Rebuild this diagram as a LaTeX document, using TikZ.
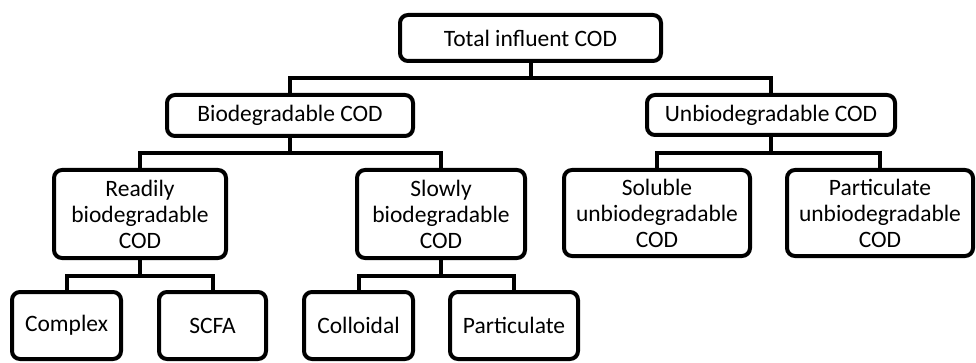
\documentclass[tikz,border=0pt]{standalone}
\usepackage{fontspec}
\setmainfont{Carlito}
\begin{document}
\begin{tikzpicture}[x=1pt,y=-1pt,
  box/.style={draw=black,line width=4pt,rounded corners=8pt,inner sep=0pt,align=center,
    font=\fontsize{23.5}{26}\selectfont,text=black},
  link/.style={draw=black,line width=4pt}]
\useasboundingbox (0,0) rectangle (976,363);
\node[box,minimum width=261,minimum height=46] (tot) at (530.5,38) {Total influent COD};
\node[box,minimum width=246,minimum height=41] (bio) at (290,115.5) {Biodegradable COD};
\node[box,minimum width=248,minimum height=40] (unb) at (771,115) {Unbiodegradable COD};
\node[box,minimum width=172,minimum height=88] (rbc) at (140,214) {Readily\\biodegradable\\COD};
\node[box,minimum width=168,minimum height=88] (sbc) at (441,214) {Slowly\\biodegradable\\COD};
\node[box,minimum width=186,minimum height=86] (sub) at (657,213) {Soluble\\unbiodegradable\\COD};
\node[box,minimum width=186,minimum height=86] (pub) at (880,213) {Particulate\\unbiodegradable\\COD};
\node[box,minimum width=109,minimum height=67] (cpx) at (66.5,325.5) {Complex};
\node[box,minimum width=107,minimum height=67] (scf) at (212.5,325.5) {SCFA};
\node[box,minimum width=109,minimum height=67] (col) at (358.5,325.5) {Colloidal};
\node[box,minimum width=128,minimum height=67] (par) at (514,325.5) {Particulate};
\coordinate (j1) at (531,78);
\coordinate (j2) at (290,153);
\coordinate (j3) at (771,153);
\coordinate (j4) at (140,276);
\coordinate (j5) at (441,276);
\draw[link] (tot.south) -- (j1 |- tot.south) -- (j1) -| (bio.north);
\draw[link] (j1) -| (unb.north);
\draw[link] (bio.south) -- (j2) -| (rbc.north);
\draw[link] (j2) -| (sbc.north);
\draw[link] (unb.south) -- (j3) -| (sub.north);
\draw[link] (j3) -| (pub.north);
\draw[link] (rbc.south) -- (j4) -| (cpx.north);
\draw[link] (j4) -| (scf.north);
\draw[link] (sbc.south) -- (j5) -| (col.north);
\draw[link] (j5) -| (par.north);
\end{tikzpicture}
\end{document}
